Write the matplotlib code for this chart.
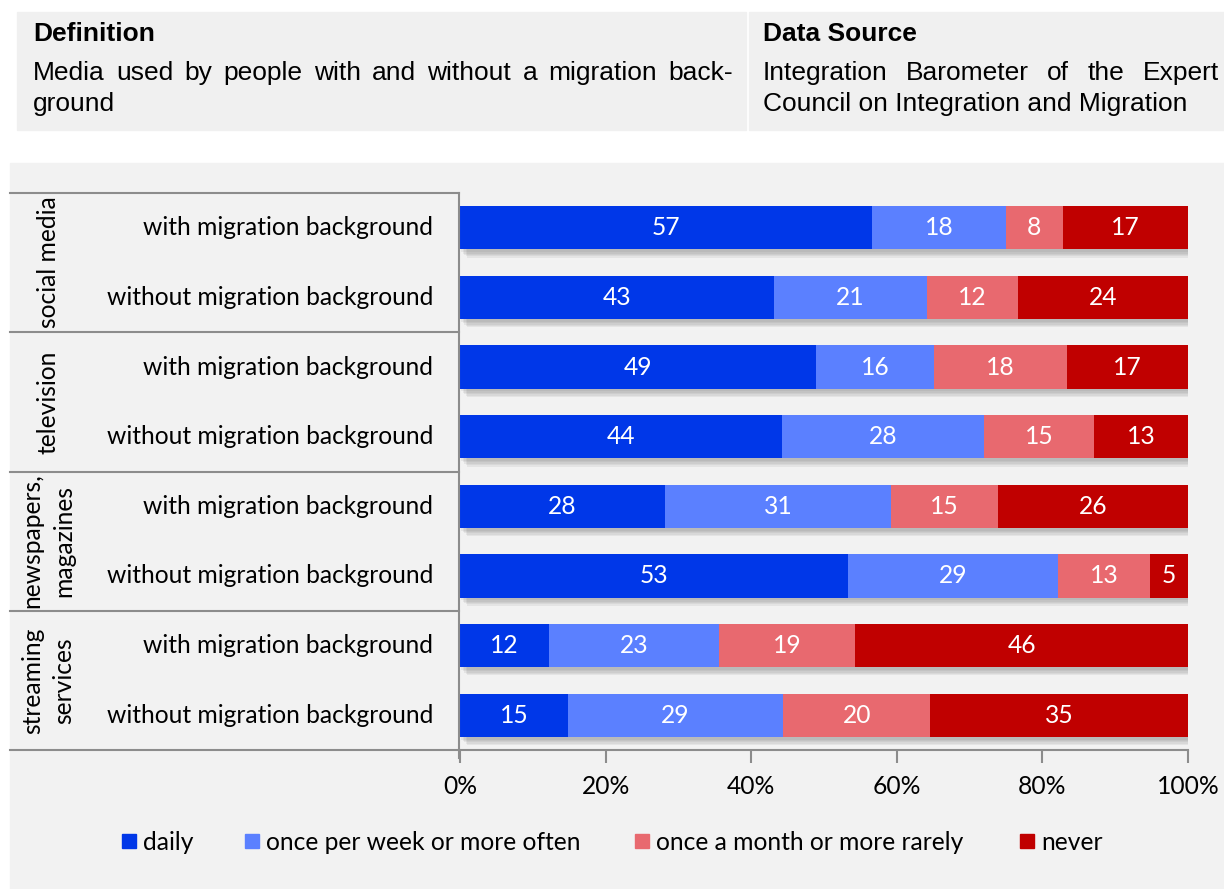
import matplotlib
matplotlib.use("Agg")
import matplotlib.pyplot as plt
import matplotlib.patheffects as pe
from matplotlib.patches import Rectangle
import numpy as np

# ---------------------------------------------------------
# DATA
# ---------------------------------------------------------
groups = ["social media", "television", "newspapers,\nmagazines", "streaming\nservices"]
row_labels = ["with migration background", "without migration background"] * 4

# segment shares (%)
daily   = [56.6, 43.1, 48.9, 44.2, 28.2, 53.3, 12.2, 14.8]
weekly  = [18.4, 21.0, 16.2, 27.8, 31.0, 28.8, 23.4, 29.6]
monthly = [ 7.8, 12.5, 18.3, 15.1, 14.7, 12.7, 18.7, 20.2]
never   = [17.2, 23.4, 16.6, 12.9, 26.1,  5.2, 45.7, 35.4]

# printed labels
daily_lbl   = [57, 43, 49, 44, 28, 53, 12, 15]
weekly_lbl  = [18, 21, 16, 28, 31, 29, 23, 29]
monthly_lbl = [8, 12, 18, 15, 15, 13, 19, 20]
never_lbl   = [17, 24, 17, 13, 26, 5, 46, 35]

series_names = ["daily", "once per week or more often",
                "once a month or more rarely", "never"]
colors = ["#0037E8", "#5B80FF", "#E8696F", "#C00000"]

xticks = [0, 20, 40, 60, 80, 100]

# ---------------------------------------------------------
# FIGURE
# ---------------------------------------------------------
W, H = 1224, 889
fig = plt.figure(figsize=(W / 100, H / 100), dpi=100)
fig.patch.set_facecolor("white")

chart_font = "Lato"
head_font = "Liberation Sans"
fs = 17.7

def fx(px):
    return px / W

def fy(py):
    return 1 - py / H

# header boxes
fig.patches.append(Rectangle((fx(17), fy(130)), fx(729), 118 / H,
                             transform=fig.transFigure, color="#F0F0F0", zorder=-2))
fig.patches.append(Rectangle((fx(749), fy(130)), fx(475), 118 / H,
                             transform=fig.transFigure, color="#F0F0F0", zorder=-2))

# chart background
fig.patches.append(Rectangle((fx(10), 0), fx(1214), 1 - 163 / H,
                             transform=fig.transFigure, color="#F2F2F2", zorder=-2))

head_fs = 19
fig.text(fx(33), fy(34), "Definition", fontsize=head_fs, fontweight="bold",
         family=head_font, va="center", ha="left")
fig.text(fx(763), fy(34), "Data Source", fontsize=head_fs, fontweight="bold",
         family=head_font, va="center", ha="left")

renderer = fig.canvas.get_renderer()

def justify(line, x0, x1, y):
    words = line.split()
    texts = [fig.text(0, 0, w, fontsize=head_fs, family=head_font,
                      va="center", ha="left") for w in words]
    widths = [t.get_window_extent(renderer).width for t in texts]
    gap = (x1 - x0 - sum(widths)) / (len(words) - 1)
    x = x0
    for t, w in zip(texts, widths):
        t.set_position((fx(x), fy(y)))
        x += w + gap

justify("Media used by people with and without a migration back-", 33, 733, 73)
fig.text(fx(33), fy(104), "ground", fontsize=head_fs, family=head_font,
         va="center", ha="left")
justify("Integration Barometer of the Expert", 763, 1219, 73)
fig.text(fx(763), fy(104), "Council on Integration and Migration",
         fontsize=head_fs, family=head_font, va="center", ha="left")

# ---------------------------------------------------------
# BARS
# ---------------------------------------------------------
x_left, x_right = 460, 1188
y_top, y_bot = 193, 750
ax = fig.add_axes([fx(x_left), fy(y_bot), fx(x_right - x_left), (y_bot - y_top) / H])
ax.set_facecolor("none")

n = len(row_labels)
y = np.arange(n)
values = [daily, weekly, monthly, never]
labels = [daily_lbl, weekly_lbl, monthly_lbl, never_lbl]

# soft drop shadow behind each full bar (a few stacked faint layers)
totals = np.sum(values, axis=0)
shadow_bars = ax.barh(y, totals, height=0.62, color="#F2F2F2", zorder=1)
soft = [pe.SimplePatchShadow(offset=(o, -o - 1), shadow_rgbFace="#606060", alpha=0.09)
        for o in (1, 2, 3, 4, 5)]
for b in shadow_bars:
    b.set_path_effects(soft)

left = np.zeros(n)
for vals, lbls, col, name in zip(values, labels, colors, series_names):
    vals = np.array(vals)
    ax.barh(y, vals, left=left, height=0.62, color=col, label=name, zorder=3)
    for yi, l, v, lb in zip(y, left, vals, lbls):
        ax.text(l + v / 2, yi, str(lb), color="white", fontsize=fs,
                family=chart_font, ha="center", va="center", zorder=4)
    left = left + vals

ax.set_xlim(0, 100)
ax.set_ylim(n - 0.5, -0.5)
for s in ["top", "right", "left"]:
    ax.spines[s].set_visible(False)
ax.spines["bottom"].set_color("#8c8c8c")
ax.spines["bottom"].set_linewidth(1.5)
ax.set_yticks([])
ax.set_xticks(xticks)
ax.set_xticklabels([f"{t}%" for t in xticks], fontsize=fs, family=chart_font)
ax.tick_params(axis="x", length=9, width=1.5, color="#8c8c8c", pad=9)

# ---------------------------------------------------------
# LABEL AREA (row + group labels, lines)
# ---------------------------------------------------------
line_kw = dict(color="#8c8c8c", linewidth=1.5, transform=fig.transFigure, zorder=1)
fig.add_artist(plt.Line2D([fx(10), fx(459)], [fy(193), fy(193)], **line_kw))
fig.add_artist(plt.Line2D([fx(459), fx(459)], [fy(193), fy(758)], **line_kw))
fig.add_artist(plt.Line2D([fx(10), fx(459)], [fy(750), fy(750)], **line_kw))

row_h = (y_bot - y_top) / n
for g in range(1, len(groups)):
    yy = y_top + 2 * g * row_h
    fig.add_artist(plt.Line2D([fx(10), fx(459)], [fy(yy), fy(yy)], **line_kw))

for i, lab in enumerate(row_labels):
    yc = y_top + (i + 0.5) * row_h
    fig.text(fx(433), fy(yc), lab, fontsize=fs, family=chart_font,
             ha="right", va="center")

for g, name in enumerate(groups):
    yc = y_top + (2 * g + 1) * row_h
    fig.text(fx(48), fy(yc), name, fontsize=fs, family=chart_font, rotation=90,
             ha="center", va="center", linespacing=1.45, multialignment="center")

# ---------------------------------------------------------
# LEGEND
# ---------------------------------------------------------
leg_x = [122, 245, 635, 1020]
leg_y = 841
for lx, col, name in zip(leg_x, colors, series_names):
    fig.patches.append(Rectangle((fx(lx), fy(leg_y + 7)), fx(14), 14 / H,
                                 transform=fig.transFigure, color=col, zorder=2))
    fig.text(fx(lx + 21), fy(leg_y + 1), name, fontsize=fs, family=chart_font,
             ha="left", va="center")

fig.savefig("out.png", dpi=100, facecolor=fig.get_facecolor())
